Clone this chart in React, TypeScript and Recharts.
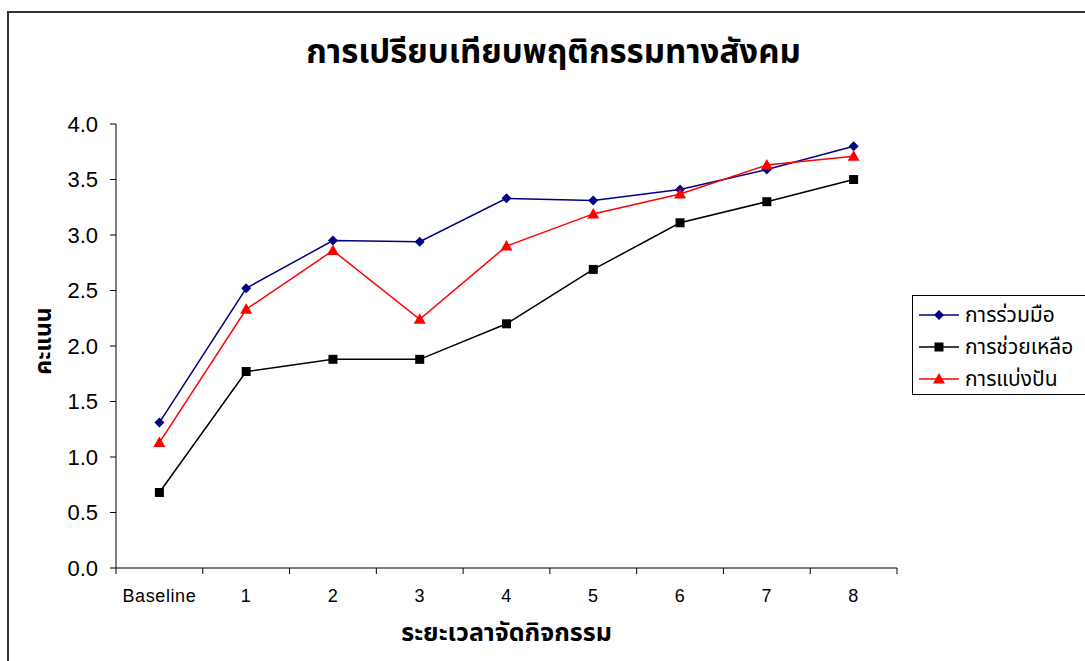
import React from 'react';
import { LineChart, Line, XAxis, YAxis } from 'recharts';

const categories = ['Baseline', '1', '2', '3', '4', '5', '6', '7', '8'];
const cooperation = [1.31, 2.52, 2.95, 2.94, 3.33, 3.31, 3.41, 3.59, 3.8];
const helping = [0.68, 1.77, 1.88, 1.88, 2.2, 2.69, 3.11, 3.3, 3.5];
const sharing = [1.13, 2.33, 2.86, 2.24, 2.9, 3.19, 3.37, 3.63, 3.71];
const yTicks = [0, 0.5, 1, 1.5, 2, 2.5, 3, 3.5, 4];
const boundaryTicks = [0, 1, 2, 3, 4, 5, 6, 7, 8, 9];

const seriesNames = ['การร่วมมือ', 'การช่วยเหลือ', 'การแบ่งปัน'];

const data = categories.map((name, i) => ({
  name,
  cooperation: cooperation[i],
  helping: helping[i],
  sharing: sharing[i],
}));

const THAI = '"Noto Sans Thai", "Noto Sans", "DejaVu Sans", sans-serif';
const ARIAL = '"Liberation Sans", Arial, sans-serif';

const Diamond = (props: any) => {
  const { cx, cy, index } = props;
  if (cx == null || cy == null) return <g key={`d${index}`} />;
  const r = 5;
  return (
    <path
      key={`d${index}`}
      d={`M${cx},${cy - r} L${cx + r},${cy} L${cx},${cy + r} L${cx - r},${cy} Z`}
      fill="#000080"
    />
  );
};

const Square = (props: any) => {
  const { cx, cy, index } = props;
  if (cx == null || cy == null) return <g key={`s${index}`} />;
  const r = 4.5;
  return <rect key={`s${index}`} x={cx - r} y={cy - r} width={r * 2} height={r * 2} fill="#000" />;
};

const Triangle = (props: any) => {
  const { cx, cy, index } = props;
  if (cx == null || cy == null) return <g key={`t${index}`} />;
  const r = 6;
  return (
    <path
      key={`t${index}`}
      d={`M${cx},${cy - r} L${cx + r},${cy + r * 0.75} L${cx - r},${cy + r * 0.75} Z`}
      fill="#ff0000"
    />
  );
};

const legendItems = [
  { name: seriesNames[0], color: '#000080', Marker: Diamond },
  { name: seriesNames[1], color: '#000000', Marker: Square },
  { name: seriesNames[2], color: '#ff0000', Marker: Triangle },
];

export default function App() {
  return (
    <div
      style={{
        position: 'absolute',
        left: 0,
        top: 0,
        width: 1085,
        height: 661,
        overflow: 'hidden',
        background: '#fff',
      }}
    >
      <div
        style={{
          position: 'absolute',
          left: 7,
          top: 11,
          width: 1100,
          height: 700,
          border: '2px solid #333',
        }}
      />
      <div
        style={{
          position: 'absolute',
          left: 0,
          width: 1085,
          top: 28,
          textAlign: 'center',
          fontFamily: THAI,
          fontWeight: 'bold',
          fontSize: 33,
          paddingLeft: 22,
          boxSizing: 'border-box',
        }}
      >
        การเปรียบเทียบพฤติกรรมทางสังคม
      </div>
      <div style={{ position: 'absolute', left: 0, top: 0 }}>
        <LineChart
          width={1085}
          height={661}
          data={data}
          margin={{ top: 124, right: 188, left: 60, bottom: 62 }}
        >
          <XAxis
            xAxisId="bounds"
            type="number"
            dataKey={() => 0}
            domain={[0, 9]}
            ticks={boundaryTicks}
            tickFormatter={() => ''}
            tickSize={6}
            height={1}
            stroke="#000"
            allowDataOverflow
          />
          <XAxis
            xAxisId="cat"
            dataKey="name"
            scale="band"
            axisLine={false}
            tickLine={false}
            height={30}
            interval={0}
            tick={{ fill: '#000', fontSize: 18, fontFamily: ARIAL, dy: 12, letterSpacing: 0.6 }}
          />
          <YAxis
            domain={[0, 4]}
            ticks={yTicks}
            width={56}
            tickSize={6}
            stroke="#000"
            tickFormatter={(v: number) => v.toFixed(1)}
            tick={{ fill: '#000', fontSize: 22, fontFamily: ARIAL, dx: -10 }}
          />
          <Line
            xAxisId="cat"
            dataKey="cooperation"
            name={seriesNames[0]}
            stroke="#000080"
            strokeWidth={1.5}
            dot={Diamond}
            activeDot={false}
            isAnimationActive={false}
          />
          <Line
            xAxisId="cat"
            dataKey="helping"
            name={seriesNames[1]}
            stroke="#000"
            strokeWidth={1.5}
            dot={Square}
            activeDot={false}
            isAnimationActive={false}
          />
          <Line
            xAxisId="cat"
            dataKey="sharing"
            name={seriesNames[2]}
            stroke="#ff0000"
            strokeWidth={1.5}
            dot={Triangle}
            activeDot={false}
            isAnimationActive={false}
          />
        </LineChart>
      </div>
      <div
        style={{
          position: 'absolute',
          left: 0,
          width: 1013,
          top: 614,
          textAlign: 'center',
          fontFamily: THAI,
          fontWeight: 'bold',
          fontSize: 25,
        }}
      >
        ระยะเวลาจัดกิจกรรม
      </div>
      <div
        style={{
          position: 'absolute',
          left: 44,
          top: 341,
          transform: 'translate(-50%, -50%) rotate(-90deg)',
          fontFamily: THAI,
          fontWeight: 'bold',
          fontSize: 23,
          whiteSpace: 'nowrap',
        }}
      >
        คะแนน
      </div>
      <div
        style={{
          position: 'absolute',
          left: 912,
          top: 295,
          width: 180,
          height: 100,
          border: '1px solid #000',
          boxSizing: 'border-box',
          paddingTop: 3,
        }}
      >
        {legendItems.map(({ name, color, Marker }) => (
          <div
            key={name}
            style={{ display: 'flex', alignItems: 'center', height: 32, fontFamily: THAI, fontSize: 21, whiteSpace: 'nowrap' }}
          >
            <svg width={44} height={20} style={{ marginLeft: 6 }}>
              <line x1={0} y1={10} x2={40} y2={10} stroke={color} strokeWidth={1.5} />
              <Marker cx={20} cy={10} index={0} />
            </svg>
            <span style={{ marginLeft: 2 }}>{name}</span>
          </div>
        ))}
      </div>
    </div>
  );
}
